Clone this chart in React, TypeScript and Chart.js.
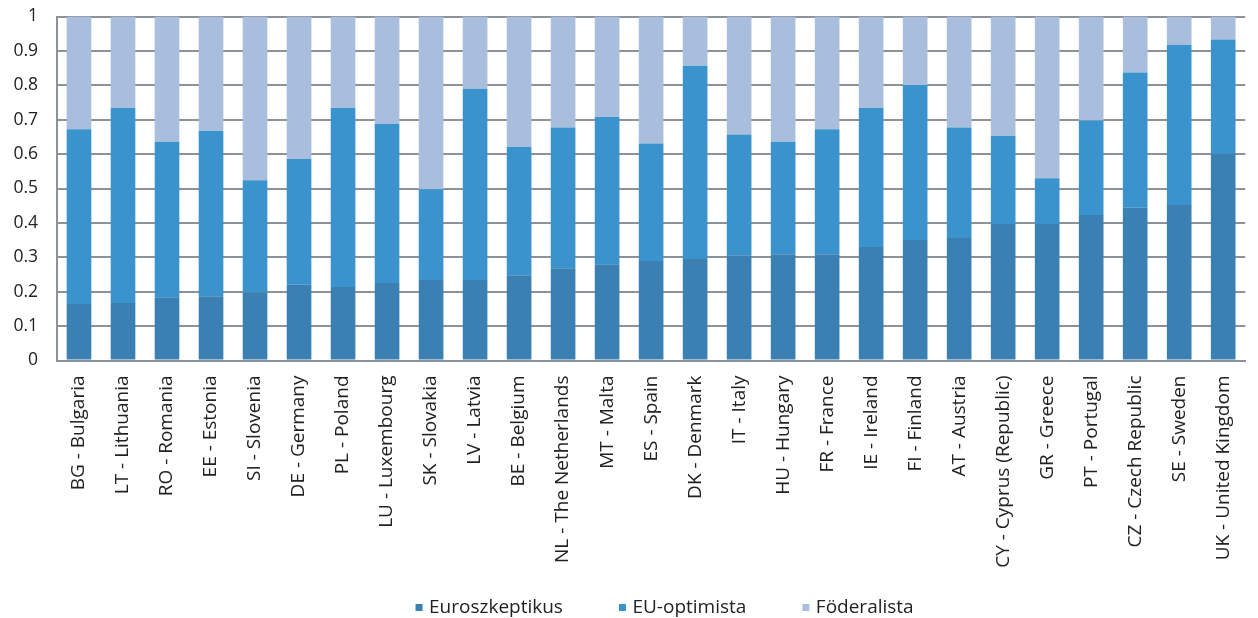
import React, { useEffect, useRef } from "react";
import { Chart, registerables } from "chart.js";

Chart.register(...registerables);

const categories = [
  "BG - Bulgaria", "LT - Lithuania", "RO - Romania", "EE - Estonia", "SI - Slovenia",
  "DE - Germany", "PL - Poland", "LU - Luxembourg", "SK - Slovakia", "LV - Latvia",
  "BE - Belgium", "NL - The Netherlands", "MT - Malta", "ES - Spain", "DK - Denmark",
  "IT - Italy", "HU - Hungary", "FR - France", "IE - Ireland", "FI - Finland",
  "AT - Austria", "CY - Cyprus (Republic)", "GR - Greece", "PT - Portugal",
  "CZ - Czech Republic", "SE - Sweden", "UK - United Kingdom",
];

const euroszkeptikus = [
  0.164, 0.167, 0.184, 0.187, 0.198, 0.220, 0.214, 0.225, 0.234, 0.234,
  0.248, 0.268, 0.280, 0.289, 0.295, 0.306, 0.309, 0.309, 0.330, 0.350,
  0.356, 0.397, 0.397, 0.423, 0.444, 0.452, 0.601,
];

const euOptimista = [
  0.508, 0.567, 0.452, 0.480, 0.326, 0.366, 0.520, 0.463, 0.264, 0.556,
  0.373, 0.409, 0.428, 0.342, 0.562, 0.351, 0.327, 0.363, 0.404, 0.451,
  0.321, 0.256, 0.133, 0.275, 0.393, 0.466, 0.332,
];

const foderalista = [
  0.328, 0.266, 0.364, 0.333, 0.476, 0.414, 0.266, 0.312, 0.502, 0.210,
  0.379, 0.323, 0.292, 0.369, 0.143, 0.343, 0.364, 0.328, 0.266, 0.199,
  0.323, 0.347, 0.470, 0.302, 0.163, 0.082, 0.067,
];

const seriesNames = ["Euroszkeptikus", "EU-optimista", "Föderalista"];
const yTickLabels = ["0", "0.1", "0.2", "0.3", "0.4", "0.5", "0.6", "0.7", "0.8", "0.9", "1"];

const COLORS = ["#3a80b2", "#3a93cd", "#a9bedc"];
const FONT = "'Open Sans'";

// let the rotated category labels run past the axis box, and nudge the legend row
const layoutTweaks = {
  id: "layoutTweaks",
  beforeDraw(chart: any) {
    const x = chart.scales.x;
    if (x) x.bottom = chart.height;
    const lg = chart.legend;
    if (lg && !lg._shifted) {
      lg.left += 15;
      lg.right += 15;
      lg._shifted = true;
    }
  },
};

export default function App() {
  const canvasRef = useRef<HTMLCanvasElement | null>(null);

  useEffect(() => {
    if (!canvasRef.current) return;
    const seriesData = [euroszkeptikus, euOptimista, foderalista];
    const chart = new Chart(canvasRef.current, {
      type: "bar",
      data: {
        labels: categories,
        datasets: seriesData.map((d, i) => ({
          label: seriesNames[i],
          data: d,
          backgroundColor: COLORS[i],
          borderWidth: 0,
          barPercentage: 0.56,
          categoryPercentage: 1,
        })),
      },
      plugins: [layoutTweaks],
      options: {
        animation: false,
        responsive: true,
        maintainAspectRatio: false,
        layout: { padding: { top: 16.5, left: 0, right: 0, bottom: 0 } },
        scales: {
          x: {
            stacked: true,
            grid: { display: false, drawTicks: false },
            border: { display: true, color: "#8c9298", width: 2 },
            ticks: {
              autoSkip: false,
              minRotation: 90,
              maxRotation: 90,
              padding: 15,
              color: "#222222",
              font: { family: FONT, size: 19 },
            },
            afterFit: (scale: any) => {
              scale.height = 178.5;
            },
          },
          y: {
            stacked: true,
            min: 0,
            max: 1,
            grid: { color: "#8c9298", lineWidth: 2, drawTicks: false },
            border: { display: true, color: "#8c9298", width: 2 },
            ticks: {
              stepSize: 0.1,
              padding: 19,
              color: "#222222",
              font: { family: FONT, size: 17.5 },
              callback: (_v: any, idx: number) => yTickLabels[idx],
            },
            afterFit: (scale: any) => {
              scale.width = 57;
              scale.paddingTop = 0;
              scale.paddingBottom = 0;
            },
          },
        },
        plugins: {
          legend: {
            position: "bottom",
            fullSize: false,
            labels: {
              usePointStyle: true,
              pointStyle: "rect",
              boxWidth: 1,
              boxHeight: 7,
              padding: 59,
              color: "#222222",
              font: { family: FONT, size: 19 },
            },
          },
          tooltip: { enabled: false },
        },
      },
    });
    return () => chart.destroy();
  }, []);

  return (
    <div style={{ position: "fixed", left: 0, top: 0, width: 1258, height: 618, overflow: "hidden", background: "#fff" }}>
      <div style={{ position: "absolute", left: 0, top: 0, width: 1261, height: 627 }}>
        <canvas ref={canvasRef} />
      </div>
    </div>
  );
}
